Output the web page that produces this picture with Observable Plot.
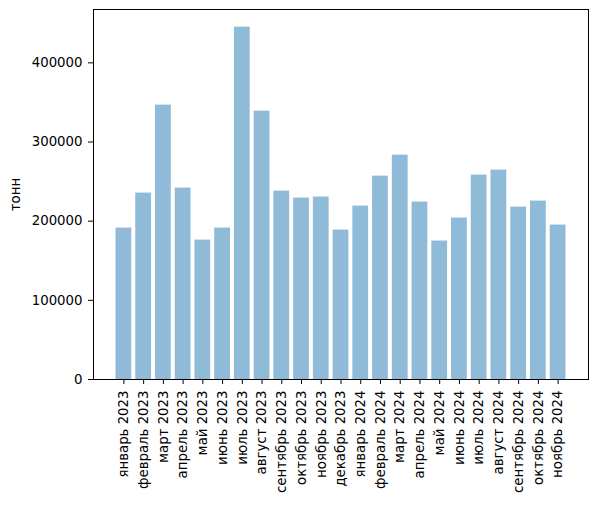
<!DOCTYPE html>
<html lang="ru">
<head>
    <meta charset="UTF-8">
    <title>тонн по месяцам</title>
    <script src="https://cdn.jsdelivr.net/npm/d3@7"></script>
    <script src="https://cdn.jsdelivr.net/npm/@observablehq/plot@0.6"></script>
    <style>
        body { margin: 0; background: white; }
    </style>
</head>
<body>
    <div id="chart"></div>

    <script>
        // месяцы и значения (тонн)
        const months = [
            "январь 2023", "февраль 2023", "март 2023", "апрель 2023", "май 2023", "июнь 2023",
            "июль 2023", "август 2023", "сентябрь 2023", "октябрь 2023", "ноябрь 2023", "декабрь 2023",
            "январь 2024", "февраль 2024", "март 2024", "апрель 2024", "май 2024", "июнь 2024",
            "июль 2024", "август 2024", "сентябрь 2024", "октябрь 2024", "ноябрь 2024"
        ];
        const tonnes = [
            191300, 235500, 346600, 241800, 176100, 191300,
            445100, 339000, 238000, 229200, 230500, 188800,
            219000, 256900, 283400, 224100, 174900, 203900,
            258200, 264500, 217800, 225400, 195100
        ];
        const yTicks = [0, 100000, 200000, 300000, 400000];

        const data = months.map((m, i) => ({month: m, value: tonnes[i]}));

        const chart = Plot.plot({
            width: 598,
            height: 506,
            marginLeft: 93,
            marginRight: 10,
            marginTop: 9,
            marginBottom: 127,
            style: {fontFamily: "DejaVu Sans", fontSize: "13.3px", color: "black", background: "white"},
            x: {
                type: "band",
                domain: months,
                round: false,
                paddingInner: 0.2,
                paddingOuter: 1.14,
                label: null,
                tickRotate: -90,
                tickSize: 5,
                tickPadding: 6
            },
            y: {
                domain: [0, 467400],
                ticks: yTicks,
                tickFormat: d3.format("d"),
                tickSize: 5,
                tickPadding: 6,
                label: "тонн",
                labelAnchor: "center",
                labelArrow: "none",
                labelOffset: 83
            },
            marks: [
                Plot.barY(data, {x: "month", y: "value", fill: "#1f77b4", fillOpacity: 0.5}),
                Plot.frame({stroke: "black"})
            ]
        });

        document.getElementById("chart").appendChild(chart);
    </script>
</body>
</html>
